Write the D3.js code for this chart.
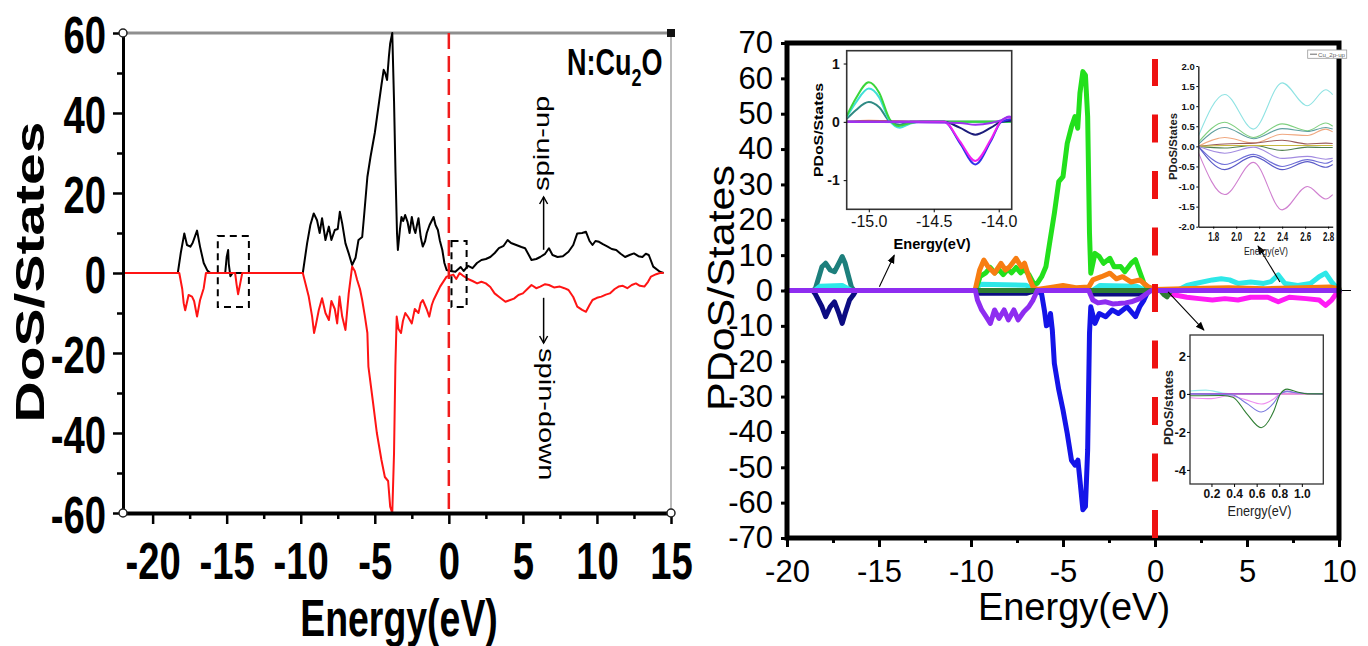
<!DOCTYPE html>
<html>
<head>
<meta charset="utf-8">
<script src="https://cdn.jsdelivr.net/npm/d3@7/dist/d3.min.js"></script>
<style>
    body { margin: 0; background: #fff; }
    svg { display: block; font-family: "Liberation Sans", Arial, sans-serif; }
</style>
</head>
<body>
<script>
// ---------- left panel: total DoS of N:Cu2O (spin up / spin down) ----------
var upE = [-22, -18.3, -18.1, -17.86, -17.68, -17.45, -17.3, -17.0, -16.8, -16.55, -16.3, -16.1,
    -15.1, -15.0, -14.9, -14.86, -14.75, -14.6,
    -9.86, -9.57, -9.35, -9.12, -8.9, -8.72, -8.56, -8.33, -8.1, -7.93, -7.7, -7.5, -7.36, -7.2,
    -6.98, -6.76, -6.53, -6.3, -6.1, -5.85, -5.73, -5.5, -5.29, -5.0, -4.85, -4.7, -4.55, -4.4,
    -4.3, -4.17, -4.05, -3.96, -3.82, -3.7, -3.6, -3.5, -3.44, -3.3, -3.2, -3.08, -2.95, -2.79,
    -2.65, -2.5, -2.35, -2.26, -2.15, -2.05, -1.9, -1.76, -1.6, -1.49, -1.3, -1.03, -0.9, -0.74,
    -0.6, -0.44, -0.3, -0.15, 0.1, 0.44, 0.8, 1.0, 1.3, 1.6, 1.9, 2.2, 2.5, 2.8, 3.1, 3.38, 3.7,
    3.97, 4.2, 4.55, 4.9, 5.15, 5.4, 5.58, 5.9, 6.17, 6.5, 6.76, 7.0, 7.34, 7.7, 8.08, 8.4, 8.67,
    9.0, 9.26, 9.5, 9.7, 9.9, 10.14, 10.4, 10.72, 11.0, 11.3, 11.6, 11.9, 12.2, 12.5, 12.8, 13.07,
    13.3, 13.5, 13.8, 14.25, 14.5];
var upV = [0, 0, 5, 9.9, 7, 6.6, 7.5, 10.6, 6.6, 2.5, 0.6, 0,
    0, 4, 5.75, 2.3, -0.8, 0,
    0, 7.4, 12, 14.9, 13.2, 10, 13.7, 8.25, 11.6, 8.25, 10.75, 11, 15.3, 12.4,
    7.4, 4.9, 2, 3.8, 8.25, 9, 14, 24, 29, 35, 39, 43, 47, 50.8,
    50, 48.25, 54, 57.4, 60, 43, 25, 10, 5.75, 11, 14, 13, 14.5, 12.8,
    10, 14, 11, 10, 12, 13.7, 9, 6.6, 8, 10, 12, 14, 12, 10.75,
    8, 5.75, 2.5, 0.75, 0.5, 0.3, 1.5, 0.5, 1.8, 1.2, 2.5, 3.25, 3.5, 4, 5, 6.2, 6.8,
    8.25, 7.5, 7, 6.5, 6.2, 4.5, 3.25, 3.5, 4, 4.8, 6.2, 4.5, 4, 4.2, 5.3, 7, 9.9,
    10, 10.3, 8, 7, 8, 7.8, 7.2, 6.6, 6, 5.75, 4.8, 4, 4.5, 4.9, 4.2, 4,
    4.8, 4.5, 1.6, 0.3, 0];

var dnE = [-22, -18.2, -18.0, -17.9, -17.8, -17.57, -17.34, -17.2, -17.0, -16.8, -16.55, -16.4,
    -14.43, -14.33, -14.23, -14.1, -13.95,
    -9.86, -9.46, -9.23, -9.1, -9.0, -8.78, -8.56, -8.33, -8.1, -7.93, -7.7, -7.54, -7.38, -7.2,
    -6.98, -6.76, -6.53, -6.35, -6.19, -6.0, -5.85, -5.67, -5.5, -5.43, -5.14, -4.86, -4.55, -4.32,
    -4.1, -3.96, -3.82, -3.7, -3.61, -3.52, -3.4, -3.23, -3.1, -2.94, -2.75, -2.5, -2.3, -2.05,
    -1.9, -1.76, -1.5, -1.32, -1.15, -1.03, -0.8, -0.59, -0.15, 0.3, 0.5, 0.73, 1.0, 1.3, 1.6,
    1.91, 2.2, 2.5, 2.8, 3.09, 3.4, 3.82, 4.1, 4.4, 4.7, 5.0, 5.3, 5.58, 5.9, 6.17, 6.5, 6.76,
    7.1, 7.5, 7.8, 8.08, 8.4, 8.67, 9.0, 9.26, 9.5, 9.7, 10.0, 10.3, 10.6, 10.87, 11.2, 11.46,
    11.75, 12.05, 12.35, 12.63, 12.9, 13.2, 13.45, 13.65, 14.0, 14.25, 14.5];
var dnV = [0, 0, -4, -7.6, -9.3, -5.5, -5.9, -7, -10.9, -6.8, -3.8, 0,
    0, -2.9, -5.3, -2.9, 0,
    0, -5.9, -10.9, -15, -13.4, -9.25, -6.3, -10, -11.75, -7, -9, -12.6, -5.9, -10.9,
    -14.25, -5.1, 1.6, 0.5, -1.75, -4, -6.75, -10.8, -15, -23.4, -31.75, -40, -46.75, -51,
    -52, -58.4, -60, -45, -23.4, -10.9, -14, -15, -12, -10, -11, -12.6, -9, -10,
    -7.5, -6.75, -9, -10.9, -8, -6.75, -5, -3.4, -0.9, -0.4, -1.5, 0, -0.8, -1.5, -2,
    -2.6, -2.2, -2.6, -3.5, -5.1, -6, -7.2, -6.8, -6.4, -5.5, -5.1, -4, -3, -3.8, -3.4, -2.8, -3,
    -3.6, -3.4, -3.8, -4.25, -6, -8.4, -9.2, -9.7, -8, -6.75, -6.2, -5.9, -5.4, -5.1, -4, -3.4,
    -3.2, -3.8, -3, -2.6, -3.2, -3.4, -2.2, -0.9, -0.3, 0, 0];

var leftYTicks = [-60, -40, -20, 0, 20, 40, 60];
var leftYMinor = [-50, -30, -10, 10, 30, 50];
var leftXTicks = [-20, -15, -10, -5, 0, 5, 10, 15];
var leftXMinor = [-17.5, -12.5, -7.5, -2.5, 2.5, 7.5, 12.5];

// ---------- right panel: PDoS ----------
var tealE = [-20, -18.6, -18.46, -18.1, -17.9, -17.65, -17.42, -17.18, -17.0, -16.84, -16.65, -16.5, -16.35, 10];
var tealV = [0, 0, 0.5, 6.7, 7.7, 5.8, 5.3, 7.7, 9.6, 7.7, 3.9, 1, 0, 0];

var navyE = [-20, -18.6, -18.46, -18.1, -17.9, -17.65, -17.42, -17.18, -17.0, -16.84, -16.6, -16.4, -16.25,
    -9.8, -9.5, -7.0, -6.5, -3.5, -3.3, -0.6, -0.3, 10];
var navyV = [0, 0, -1, -4.6, -7.4, -4.6, -3.2, -6.5, -9.3, -6.5, -2.7, -1.3, 0,
    0, -0.8, -0.8, 0, 0, -1, -1, 0, 0];

var cyanE = [-20, -18.5, -18.2, -17.0, -16.5, -9.8, -9.5, -7.0, -6.6, -3.4, -3.0, -1.0, -0.5, 1.2, 1.73, 2.2,
    3.12, 3.6, 4.05, 4.51, 5.2, 5.9, 6.3, 6.7, 7.06, 7.76, 8.45, 8.92, 9.27, 9.6, 9.84, 10];
var cyanV = [0, 0, 1.2, 1.4, 0, 0, 1.8, 1.5, 0, 0, 1.4, 1.2, 0, 0, 1.4, 2,
    3, 3.3, 3, 2, 2.4, 2, 2.5, 4.4, 2, 1.4, 2, 3.9, 4.9, 2.4, 1, 0.5];

var greenE = [-20, -9.76, -9.5, -9.2, -8.95, -8.7, -8.5, -8.25, -8.0, -7.8, -7.55, -7.3, -7.1, -6.85, -6.6,
    -6.4, -6.16, -5.93, -5.7, -5.47, -5.23, -5.0, -4.77, -4.54, -4.35, -4.2, -4.08, -3.92, -3.78,
    -3.66, -3.56, -3.49, -3.26, -3.03, -2.8, -2.45, -2.22, -1.87, -1.64, -1.29, -1.06, -0.83, -0.6,
    -0.36, -0.1, 10];
var greenV = [0, 0, 4, 5, 6.5, 5, 6, 4.5, 6, 5, 6.5, 5, 6, 4.5, 2,
    2, 3.9, 6.7, 14.3, 21.8, 30.8, 32.2, 41.6, 46.3, 49.2, 45.9, 55.8, 61.9, 60.9,
    49.2, 16.2, 4.9, 10.5, 9.6, 7.7, 9.1, 6.7, 6.8, 5.3, 7.7, 8.7, 5.3, 2,
    0.5, 0, 0];

var orangeE = [-20, -9.9, -9.76, -9.53, -9.3, -9.07, -8.72, -8.37, -8.13, -7.9, -7.55, -7.27, -7.09, -6.86,
    -6.63, -6.4, -5.5, -5.0, -4.3, -3.6, -3.38, -2.91, -2.45, -2.1, -1.76, -1.29, -0.83, -0.36, 0,
    2, 4, 6, 8, 9.5, 10];
var orangeV = [0, 0, 0.5, 5.8, 8.6, 6.7, 4.9, 7.7, 5.8, 6.7, 9.1, 6.7, 7.7, 3.9,
    1, 0.3, 1, 1.4, 0.8, 1, 3, 3.9, 4.9, 3.3, 3.9, 2.4, 3, 1, 0.3,
    0.6, 0.8, 0.5, 0.8, 1, 0.5];

var blueE = [-20, -6.4, -6.16, -6.0, -5.9, -5.78, -5.68, -5.58, -5.47, -5.23, -5.0, -4.77, -4.54, -4.35,
    -4.19, -4.08, -3.92, -3.78, -3.66, -3.56, -3.49, -3.26, -3.03, -2.68, -2.33, -1.99, -1.52,
    -1.06, -0.83, -0.6, -0.36, 10];
var blueV = [0, 0, -1, -6, -10, -9.5, -6.5, -11.2, -20.6, -28.1, -33.8, -40.4, -48, -49.4,
    -48, -53.6, -62, -61.1, -45.1, -12.1, -4.6, -9.3, -6.5, -7.4, -5.5, -6.5, -4.6,
    -7.4, -4.6, -2.7, 0, 0];

var magentaE = [-20, 0.5, 0.8, 1.73, 2.4, 3.12, 3.8, 4.51, 5.2, 6.13, 6.7, 7.3, 8.22, 8.92, 9.27, 9.6, 9.84, 10];
var magentaV = [0, 0, -1, -1.9, -2.3, -2.7, -2.3, -2.7, -1.9, -1.9, -3.2, -1.9, -2.3, -2.7, -4.2, -2.7, -1, -0.5];

var dkgreenE = [-20, 0.3, 0.5, 0.65, 0.8, 0.9, 10];
var dkgreenV = [0, 0, -1.2, -1.8, -0.5, 0, 0];

var purpleE = [-20, -9.76, -9.65, -9.42, -9.18, -8.95, -8.72, -8.48, -8.2, -7.97, -7.67, -7.44, -7.13, -6.86,
    -6.63, -6.4, -3.6, -3.38, -3.1, -2.68, -2.3, -1.99, -1.6, -1.29, -0.83, -0.48, -0.2, 10];
var purpleV = [0, 0, -2.7, -5.5, -7.4, -9.3, -5.5, -7.9, -5.5, -8.3, -5.5, -8.3, -6, -4.6,
    -2.7, 0, 0, -2.7, -3.5, -3.2, -3.8, -3.7, -3.5, -3.2, -2.3, -1, 0, 0];

var rightYTicks = [-70, -60, -50, -40, -30, -20, -10, 0, 10, 20, 30, 40, 50, 60, 70];
var rightXTicks = [-20, -15, -10, -5, 0, 5, 10];
var rightXMinor = [-17.5, -12.5, -7.5, -2.5, 2.5, 7.5];

// ---------- inset 1 (-15.2 .. -13.9 eV) ----------
var in1Green   = [[-15.17, 0.1], [-15.1, 0.4], [-15.0, 0.68], [-14.92, 0.5], [-14.84, 0.05], [-14.77, -0.07], [-14.68, -0.02], [-14.6, 0], [-13.9, 0]];
var in1Cyan    = [[-15.17, 0.08], [-15.1, 0.33], [-15.0, 0.57], [-14.92, 0.42], [-14.84, 0.02], [-14.76, -0.1], [-14.68, -0.03], [-14.6, 0], [-13.9, 0]];
var in1Teal    = [[-15.17, 0.05], [-15.1, 0.2], [-15.0, 0.34], [-14.92, 0.25], [-14.84, 0.01], [-14.76, -0.05], [-14.68, 0], [-13.9, 0]];
var in1Orange  = [[-15.17, 0], [-15.0, 0.02], [-14.8, 0.01], [-14.6, 0], [-13.9, 0]];
var in1Navy    = [[-15.17, 0], [-14.42, 0], [-14.3, -0.1], [-14.18, -0.22], [-14.06, -0.1], [-13.98, 0], [-13.9, 0.02]];
var in1Magenta = [[-15.17, 0], [-14.42, 0], [-14.3, -0.33], [-14.18, -0.67], [-14.06, -0.3], [-13.98, 0.02], [-13.92, 0.08], [-13.9, 0.07]];
var in1Blue    = [[-15.17, 0], [-14.42, 0], [-14.3, -0.36], [-14.18, -0.73], [-14.06, -0.33], [-13.98, 0], [-13.9, 0.05]];
var in1Purple  = [[-15.17, 0], [-14.3, -0.02], [-14.18, -0.05], [-14.06, -0.02], [-13.98, 0.03], [-13.92, 0.09], [-13.9, 0.08]];

// ---------- inset 2 (1.7 .. 2.8 eV) ----------
var in2E       = [1.67, 1.9, 2.15, 2.4, 2.62, 2.78, 2.84];
var in2Cyan    = [0.25, 1.29, 0.43, 1.58, 1.01, 1.41, 1.29];
var in2Green   = [0.1, 0.6, 0.22, 0.56, 0.39, 0.58, 0.5];
var in2Teal    = [0.05, 0.47, 0.19, 0.44, 0.37, 0.47, 0.43];
var in2Orange  = [0, 0.22, 0.08, 0.3, 0.27, 0.43, 0.36];
var in2Maroon  = [0, 0.06, 0.08, 0.15, 0.06, 0.08, 0.07];
var in2Olive   = [0, 0.02, 0.02, 0.02, 0.02, 0.02, 0.02];
var in2DkGreen = [0, -0.04, 0.02, -0.1, -0.02, -0.03, -0.03];
var in2Lav     = [0, -0.17, -0.02, -0.3, -0.25, -0.32, -0.3];
var in2Blue1   = [0, -0.45, -0.2, -0.5, -0.33, -0.42, -0.35];
var in2Blue2   = [0, -0.58, -0.25, -0.58, -0.38, -0.52, -0.45];
var in2Magenta = [-0.15, -1.2, -0.4, -1.58, -1.0, -1.31, -1.2];

// ---------- inset 3 (0.1 .. 1.1 eV) ----------
var in3DkGreen = [[0.01, -0.1], [0.3, -0.08], [0.39, -0.17], [0.51, -1.02], [0.64, -1.78], [0.75, -0.93], [0.81, 0], [0.87, 0.25], [0.96, 0.1], [1.05, 0], [1.19, 0]];
var in3Blue    = [[0.01, 0], [0.38, -0.05], [0.51, -0.49], [0.64, -0.95], [0.75, -0.49], [0.81, 0], [0.87, 0.12], [0.96, 0.05], [1.19, 0]];
var in3Pink    = [[0.01, -0.2], [0.2, -0.25], [0.35, -0.1], [0.5, -0.3], [0.64, -0.53], [0.75, -0.27], [0.81, 0], [1.19, 0]];
var in3Cyan    = [[0.01, 0.15], [0.15, 0.2], [0.3, 0.05], [0.45, 0], [1.19, 0]];
var in3Purple  = [[0.01, 0], [0.8, 0], [0.87, 0.15], [0.95, 0.05], [1.19, 0]];
var in3Red     = [[0.01, 0], [1.19, 0]];


var svg = d3.select("body").append("svg")
    .attr("width", 1368)
    .attr("height", 646);

// hyphen minus like the original, not the unicode one d3 uses
function fmt(d) { return String(d); }
function fmt1(d) { return d.toFixed(1); }

function seriesLine(xs, ys, E, V) {
    return d3.line()
        .x(function(d, i) { return xs(E[i]); })
        .y(function(d, i) { return ys(V[i]); })(E);
}

function pairLine(xs, ys, pts) {
    return d3.line()
        .x(function(d) { return xs(d[0]); })
        .y(function(d) { return ys(d[1]); })
        .curve(d3.curveMonotoneX)(pts);
}

function cleanAxis(g) {
    g.attr("font-family", null).attr("font-size", null);
}

/* ===================== LEFT PANEL ===================== */
var xL = d3.scaleLinear().domain([-22, 15]).range([123, 671]);
var yL = d3.scaleLinear().domain([-60, 60]).range([513, 33]);

var left = svg.append("g").attr("class", "left");

left.append("line")
    .attr("x1", xL(-22)).attr("x2", xL(15))
    .attr("y1", yL(60)).attr("y2", yL(60))
    .attr("stroke", "#8f8f8f").attr("stroke-width", 3);
left.append("line")
    .attr("x1", xL(15)).attr("x2", xL(15))
    .attr("y1", yL(60)).attr("y2", yL(-60))
    .attr("stroke", "#a3a3a3").attr("stroke-width", 1.5);

left.append("path")
    .attr("d", seriesLine(xL, yL, upE, upV))
    .attr("fill", "none").attr("stroke", "#000").attr("stroke-width", 2)
    .attr("stroke-linejoin", "round");
left.append("path")
    .attr("d", seriesLine(xL, yL, dnE, dnV))
    .attr("fill", "none").attr("stroke", "#ff1414").attr("stroke-width", 2)
    .attr("stroke-linejoin", "round");

// Fermi level
left.append("line")
    .attr("x1", xL(0)).attr("x2", xL(0))
    .attr("y1", yL(60)).attr("y2", yL(-60))
    .attr("stroke", "#f01c1c").attr("stroke-width", 2.5)
    .attr("stroke-dasharray", "16,7");

// dashed boxes
[[-15.6, -13.5, 9.25, -8.5], [0.18, 1.2, 8, -8.5]].forEach(function(b) {
    left.append("rect")
        .attr("x", xL(b[0])).attr("y", yL(b[2]))
        .attr("width", xL(b[1]) - xL(b[0])).attr("height", yL(b[3]) - yL(b[2]))
        .attr("fill", "none").attr("stroke", "#000").attr("stroke-width", 2)
        .attr("stroke-dasharray", "7,5");
});

// axes
var gLy = left.append("g")
    .attr("transform", "translate(" + xL(-22) + ",0)")
    .call(d3.axisLeft(yL).tickValues(leftYTicks).tickSize(10).tickSizeOuter(0).tickFormat(fmt));
gLy.call(cleanAxis);
gLy.select(".domain").attr("stroke-width", 3);
gLy.selectAll(".tick line").attr("stroke-width", 2.5);
gLy.selectAll("text")
    .attr("x", null).attr("dy", null)
    .attr("transform", "translate(-17,19) scale(0.75,1)")
    .style("font-size", "51px").style("font-weight", "bold").attr("fill", "#000");

var gLym = left.append("g")
    .attr("transform", "translate(" + xL(-22) + ",0)")
    .call(d3.axisLeft(yL).tickValues(leftYMinor).tickSize(6).tickFormat(""));
gLym.select(".domain").remove();
gLym.selectAll(".tick line").attr("stroke-width", 2.5);

var gLx = left.append("g")
    .attr("transform", "translate(0," + yL(-60) + ")")
    .call(d3.axisBottom(xL).tickValues(leftXTicks).tickSize(11).tickSizeOuter(0).tickFormat(fmt));
gLx.call(cleanAxis);
gLx.select(".domain").attr("stroke-width", 4);
gLx.selectAll(".tick line").attr("stroke-width", 2.5);
gLx.selectAll("text")
    .attr("y", null).attr("dy", null)
    .attr("transform", "translate(0,66) scale(0.75,1)")
    .style("font-size", "51px").style("font-weight", "bold").attr("fill", "#000");

var gLxm = left.append("g")
    .attr("transform", "translate(0," + yL(-60) + ")")
    .call(d3.axisBottom(xL).tickValues(leftXMinor).tickSize(6).tickFormat(""));
gLxm.select(".domain").remove();
gLxm.selectAll(".tick line").attr("stroke-width", 2.5);

// Origin style corner handles
[[-22, -60], [15, -60], [-22, 60]].forEach(function(c) {
    left.append("circle")
        .attr("cx", xL(c[0])).attr("cy", yL(c[1])).attr("r", 4)
        .attr("fill", "#fff").attr("stroke", "#222").attr("stroke-width", 1.5);
});
left.append("rect")
    .attr("x", xL(15) - 4).attr("y", yL(60) - 4).attr("width", 8).attr("height", 8)
    .attr("fill", "#111");

// texts
left.append("text")
    .attr("transform", "translate(44,272) scale(0.72,1) rotate(-90)")
    .attr("text-anchor", "middle")
    .style("font-size", "57px").style("font-weight", "bold")
    .text("DoS/States");

left.append("text")
    .attr("transform", "translate(399,636) scale(0.72,1)")
    .attr("text-anchor", "middle")
    .style("font-size", "52px").style("font-weight", "bold")
    .text("Energy(eV)");

var lab = left.append("text")
    .attr("transform", "translate(567,75) scale(0.75,1)")
    .style("font-size", "36px").style("font-weight", "600");
lab.append("tspan").text("N:Cu");
lab.append("tspan").attr("dy", 11).style("font-size", "24px").text("2");
lab.append("tspan").attr("dy", -11).text("O");

// spin arrows
var ax = xL(6.4);
left.append("line").attr("x1", ax).attr("x2", ax).attr("y1", yL(5.8)).attr("y2", yL(19))
    .attr("stroke", "#000").attr("stroke-width", 1.5);
left.append("path")
    .attr("d", "M" + (ax - 4) + "," + (yL(19) + 7) + "L" + ax + "," + yL(19) + "L" + (ax + 4) + "," + (yL(19) + 7))
    .attr("fill", "none").attr("stroke", "#000").attr("stroke-width", 1.5);
left.append("line").attr("x1", ax).attr("x2", ax).attr("y1", yL(-6.2)).attr("y2", yL(-17.5))
    .attr("stroke", "#000").attr("stroke-width", 1.5);
left.append("path")
    .attr("d", "M" + (ax - 4) + "," + (yL(-17.5) - 7) + "L" + ax + "," + yL(-17.5) + "L" + (ax + 4) + "," + (yL(-17.5) - 7))
    .attr("fill", "none").attr("stroke", "#000").attr("stroke-width", 1.5);

left.append("text")
    .attr("transform", "translate(549," + yL(32.4) + ") scale(0.75,1) rotate(-90)")
    .attr("text-anchor", "middle").style("font-size", "29px")
    .text("spin-up");
left.append("text")
    .attr("transform", "translate(539," + yL(-35.3) + ") scale(0.75,1) rotate(90)")
    .attr("text-anchor", "middle").style("font-size", "29px")
    .text("spin-down");


/* ===================== RIGHT PANEL ===================== */
var xR = d3.scaleLinear().domain([-20, 10]).range([787, 1339]);
var yR = d3.scaleLinear().domain([-70, 70]).range([538, 43]);

var right = svg.append("g").attr("class", "right");

// thin zero line, runs a bit past the frame
right.append("line")
    .attr("x1", xR(-20)).attr("x2", xR(10) + 12)
    .attr("y1", yR(0)).attr("y2", yR(0))
    .attr("stroke", "#000").attr("stroke-width", 1.2);

var rightSeries = [
    {E: tealE, V: tealV, color: "#1d7f7c"},
    {E: navyE, V: navyV, color: "#0c0c82"},
    {E: cyanE, V: cyanV, color: "#2ee8e8"},
    {E: greenE, V: greenV, color: "#22e01c"},
    {E: orangeE, V: orangeV, color: "#f77d12"},
    {E: blueE, V: blueV, color: "#1414e8"},
    {E: magentaE, V: magentaV, color: "#ff1cf5"},
    {E: dkgreenE, V: dkgreenV, color: "#2e7d32"},
    {E: purpleE, V: purpleV, color: "#8e2df0"}
];

right.selectAll(".pdos")
    .data(rightSeries)
    .enter().append("path")
    .attr("class", "pdos")
    .attr("d", function(s) { return seriesLine(xR, yR, s.E, s.V); })
    .attr("fill", "none")
    .attr("stroke", function(s) { return s.color; })
    .attr("stroke-width", 5)
    .attr("stroke-linejoin", "round")
    .attr("stroke-linecap", "round");

// frame
right.append("rect")
    .attr("x", xR(-20)).attr("y", yR(70))
    .attr("width", xR(10) - xR(-20)).attr("height", yR(-70) - yR(70))
    .attr("fill", "none").attr("stroke", "#000").attr("stroke-width", 5);

var gRy = right.append("g")
    .attr("transform", "translate(" + xR(-20) + ",0)")
    .call(d3.axisLeft(yR).tickValues(rightYTicks).tickSize(6).tickPadding(8).tickFormat(fmt));
gRy.call(cleanAxis);
gRy.select(".domain").remove();
gRy.selectAll(".tick line").attr("stroke-width", 3);
gRy.selectAll("text").style("font-size", "31px").attr("fill", "#000");

var gRx = right.append("g")
    .attr("transform", "translate(0," + yR(-70) + ")")
    .call(d3.axisBottom(xR).tickValues(rightXTicks).tickSize(9).tickPadding(13).tickFormat(fmt));
gRx.call(cleanAxis);
gRx.select(".domain").remove();
gRx.selectAll(".tick line").attr("stroke-width", 3);
gRx.selectAll("text").style("font-size", "31px").attr("fill", "#000");

var gRxm = right.append("g")
    .attr("transform", "translate(0," + yR(-70) + ")")
    .call(d3.axisBottom(xR).tickValues(rightXMinor).tickSize(5).tickFormat(""));
gRxm.select(".domain").remove();
gRxm.selectAll(".tick line").attr("stroke-width", 3);

// Fermi level
right.append("line")
    .attr("x1", xR(0)).attr("x2", xR(0))
    .attr("y1", yR(-70)).attr("y2", yR(65.5))
    .attr("stroke", "#ee1111").attr("stroke-width", 6)
    .attr("stroke-dasharray", "28,28.5");

right.append("text")
    .attr("transform", "translate(734,288) rotate(-90)")
    .attr("text-anchor", "middle")
    .attr("textLength", 246).attr("lengthAdjust", "spacingAndGlyphs")
    .style("font-size", "36px")
    .text("PDoS/States");

right.append("text")
    .attr("x", 1074).attr("y", 620)
    .attr("text-anchor", "middle")
    .style("font-size", "38px")
    .text("Energy(eV)");

// pointer arrows to the insets
svg.append("defs").append("marker")
    .attr("id", "head")
    .attr("viewBox", "0 0 10 10")
    .attr("refX", 9).attr("refY", 5)
    .attr("markerWidth", 9).attr("markerHeight", 9)
    .attr("markerUnits", "userSpaceOnUse")
    .attr("orient", "auto")
    .append("path").attr("d", "M0,1 L10,5 L0,9 Z").attr("fill", "#000");

[[-14.98, 1.07, -14.17, 10], [6.79, 2.4, 5.6, 12.6], [0.71, -0.4, 2.66, -11.2]].forEach(function(a) {
    right.append("line")
        .attr("x1", xR(a[0])).attr("y1", yR(a[1]))
        .attr("x2", xR(a[2])).attr("y2", yR(a[3]))
        .attr("stroke", "#000").attr("stroke-width", 1.1)
        .attr("marker-end", "url(#head)");
});


/* ---------- inset 1 ---------- */
var x1 = d3.scaleLinear().domain([-15.17, -13.9]).range([846.7, 1011.7]);
var y1 = d3.scaleLinear().domain([-1.5, 1.22]).range([209.3, 50.7]);
var ins1 = svg.append("g");
ins1.append("rect")
    .attr("x", x1.range()[0]).attr("y", y1.range()[1])
    .attr("width", x1.range()[1] - x1.range()[0]).attr("height", y1.range()[0] - y1.range()[1])
    .attr("fill", "#fff");

var in1Series = [
    {p: in1Orange, c: "#f08a3a"}, {p: in1Teal, c: "#2f8a84"}, {p: in1Cyan, c: "#3fe0d8"},
    {p: in1Green, c: "#3ad63a"}, {p: in1Navy, c: "#1c1c7a"}, {p: in1Blue, c: "#3232e8"},
    {p: in1Magenta, c: "#f020f0"}, {p: in1Purple, c: "#9a33ee"}
];
ins1.selectAll(".c1").data(in1Series).enter().append("path")
    .attr("d", function(s) { return pairLine(x1, y1, s.p); })
    .attr("fill", "none").attr("stroke", function(s) { return s.c; }).attr("stroke-width", 2);

ins1.append("rect")
    .attr("x", x1.range()[0]).attr("y", y1.range()[1])
    .attr("width", x1.range()[1] - x1.range()[0]).attr("height", y1.range()[0] - y1.range()[1])
    .attr("fill", "none").attr("stroke", "#333").attr("stroke-width", 1.6);

var g1y = ins1.append("g").attr("transform", "translate(" + x1.range()[0] + ",0)")
    .call(d3.axisLeft(y1).tickValues([-1, 0, 1]).tickSize(3).tickPadding(4).tickFormat(fmt));
g1y.call(cleanAxis);
g1y.select(".domain").remove();
g1y.selectAll("text").style("font-size", "14px").style("font-weight", "bold").attr("fill", "#111");

var g1x = ins1.append("g").attr("transform", "translate(0," + y1.range()[0] + ")")
    .call(d3.axisBottom(x1).tickValues([-15, -14.5, -14]).tickSize(3).tickPadding(3).tickFormat(fmt1));
g1x.call(cleanAxis);
g1x.select(".domain").remove();
g1x.selectAll("text").style("font-size", "16px").attr("fill", "#111");

ins1.append("text")
    .attr("x", 932).attr("y", 249).attr("text-anchor", "middle")
    .attr("textLength", 77).attr("lengthAdjust", "spacingAndGlyphs")
    .style("font-size", "15px").style("font-weight", "bold")
    .text("Energy(eV)");
ins1.append("text")
    .attr("transform", "translate(823,130) rotate(-90)").attr("text-anchor", "middle")
    .attr("textLength", 94).attr("lengthAdjust", "spacingAndGlyphs")
    .style("font-size", "13px").style("font-weight", "bold")
    .text("PDoS/States");


/* ---------- inset 2 ---------- */
var x2 = d3.scaleLinear().domain([1.67, 2.84]).range([1198.3, 1332.7]);
var y2 = d3.scaleLinear().domain([-2, 2]).range([226.7, 66]);
var ins2 = svg.append("g");

var in2Series = [
    {v: in2Cyan, c: "#8fe3e3"}, {v: in2Green, c: "#7fd07f"}, {v: in2Teal, c: "#5f9f9f"},
    {v: in2Orange, c: "#f0a880"}, {v: in2Maroon, c: "#9a5a5a"}, {v: in2DkGreen, c: "#4f7f4f"},
    {v: in2Olive, c: "#c8b840"}, {v: in2Lav, c: "#a28be0"}, {v: in2Blue1, c: "#6f6fd8"},
    {v: in2Blue2, c: "#5a5ac8"}, {v: in2Magenta, c: "#d080d0"}
];
ins2.selectAll(".c2").data(in2Series).enter().append("path")
    .attr("d", function(s) {
        return pairLine(x2, y2, in2E.map(function(e, i) { return [e, s.v[i]]; }));
    })
    .attr("fill", "none").attr("stroke", function(s) { return s.c; }).attr("stroke-width", 1.1);

var g2y = ins2.append("g").attr("transform", "translate(" + x2.range()[0] + ",0)")
    .call(d3.axisLeft(y2).tickValues([-2, -1.5, -1, -0.5, 0, 0.5, 1, 1.5, 2]).tickSize(2).tickPadding(1.5).tickSizeOuter(0).tickFormat(fmt1));
g2y.call(cleanAxis);
g2y.select(".domain").attr("stroke", "#333").attr("stroke-width", 1.5);
g2y.selectAll("text").style("font-size", "9.5px").style("font-weight", "bold").attr("fill", "#111");

var g2x = ins2.append("g").attr("transform", "translate(0," + y2.range()[0] + ")")
    .call(d3.axisBottom(x2).tickValues([1.8, 2.0, 2.2, 2.4, 2.6, 2.8]).tickSize(2).tickSizeOuter(0).tickFormat(fmt1));
g2x.call(cleanAxis);
g2x.select(".domain").attr("stroke", "#333").attr("stroke-width", 1.5);
g2x.selectAll("text")
    .attr("y", null).attr("dy", null).attr("transform", "translate(0,14.5)")
    .attr("textLength", 11).attr("lengthAdjust", "spacingAndGlyphs")
    .style("font-size", "12px").style("font-weight", "bold").attr("fill", "#111");

ins2.append("text")
    .attr("x", 1266).attr("y", 254.5).attr("text-anchor", "middle")
    .attr("textLength", 44).attr("lengthAdjust", "spacingAndGlyphs")
    .style("font-size", "11.5px").attr("fill", "#222")
    .text("Energy(eV)");
ins2.append("text")
    .attr("transform", "translate(1177,146.5) rotate(-90)").attr("text-anchor", "middle")
    .attr("textLength", 67).attr("lengthAdjust", "spacingAndGlyphs")
    .style("font-size", "11px").style("font-weight", "bold").attr("fill", "#222")
    .text("PDoS/States");

// tiny legend
ins2.append("rect").attr("x", 1307.7).attr("y", 50).attr("width", 39).attr("height", 8.3)
    .attr("fill", "#fff").attr("stroke", "#999").attr("stroke-width", 0.8);
ins2.append("line").attr("x1", 1310).attr("x2", 1317).attr("y1", 54.2).attr("y2", 54.2)
    .attr("stroke", "#444").attr("stroke-width", 0.8);
ins2.append("text").attr("x", 1318).attr("y", 56.5)
    .attr("textLength", 27).attr("lengthAdjust", "spacingAndGlyphs")
    .style("font-size", "6px").attr("fill", "#666")
    .text("Cu_2p-up");


/* ---------- inset 3 ---------- */
var x3 = d3.scaleLinear().domain([0.01, 1.19]).range([1190, 1323.3]);
var y3 = d3.scaleLinear().domain([-4.74, 3.1]).range([484, 335]);
var ins3 = svg.append("g");
ins3.append("rect")
    .attr("x", x3.range()[0]).attr("y", y3.range()[1])
    .attr("width", x3.range()[1] - x3.range()[0]).attr("height", y3.range()[0] - y3.range()[1])
    .attr("fill", "#fff");

var in3Series = [
    {p: in3Cyan, c: "#9aeaea"}, {p: in3Red, c: "#e25a8a"}, {p: in3Purple, c: "#9c4ee0"},
    {p: in3Pink, c: "#ef8fef"}, {p: in3Blue, c: "#7a7ade"}, {p: in3DkGreen, c: "#2e7d32"}
];
ins3.selectAll(".c3").data(in3Series).enter().append("path")
    .attr("d", function(s) { return pairLine(x3, y3, s.p); })
    .attr("fill", "none").attr("stroke", function(s) { return s.c; }).attr("stroke-width", 1.1);

ins3.append("rect")
    .attr("x", x3.range()[0]).attr("y", y3.range()[1])
    .attr("width", x3.range()[1] - x3.range()[0]).attr("height", y3.range()[0] - y3.range()[1])
    .attr("fill", "none").attr("stroke", "#333").attr("stroke-width", 1.3);

var g3y = ins3.append("g").attr("transform", "translate(" + x3.range()[0] + ",0)")
    .call(d3.axisLeft(y3).tickValues([-4, -2, 0, 2]).tickSize(3).tickPadding(1).tickFormat(fmt));
g3y.call(cleanAxis);
g3y.select(".domain").remove();
g3y.selectAll("text").style("font-size", "13px").style("font-weight", "bold").attr("fill", "#111");

var g3x = ins3.append("g").attr("transform", "translate(0," + y3.range()[0] + ")")
    .call(d3.axisBottom(x3).tickValues([0.2, 0.4, 0.6, 0.8, 1.0]).tickSize(3).tickPadding(2).tickFormat(fmt1));
g3x.call(cleanAxis);
g3x.select(".domain").remove();
g3x.selectAll("text").style("font-size", "12px").style("font-weight", "bold").attr("fill", "#111");

ins3.append("text")
    .attr("x", 1259.5).attr("y", 516).attr("text-anchor", "middle")
    .attr("textLength", 64).attr("lengthAdjust", "spacingAndGlyphs")
    .style("font-size", "14px").attr("fill", "#222")
    .text("Energy(eV)");
ins3.append("text")
    .attr("transform", "translate(1173,407.5) rotate(-90)").attr("text-anchor", "middle")
    .attr("textLength", 75).attr("lengthAdjust", "spacingAndGlyphs")
    .style("font-size", "12px").style("font-weight", "bold").attr("fill", "#222")
    .text("PDoS/states");
</script>
</body>
</html>
